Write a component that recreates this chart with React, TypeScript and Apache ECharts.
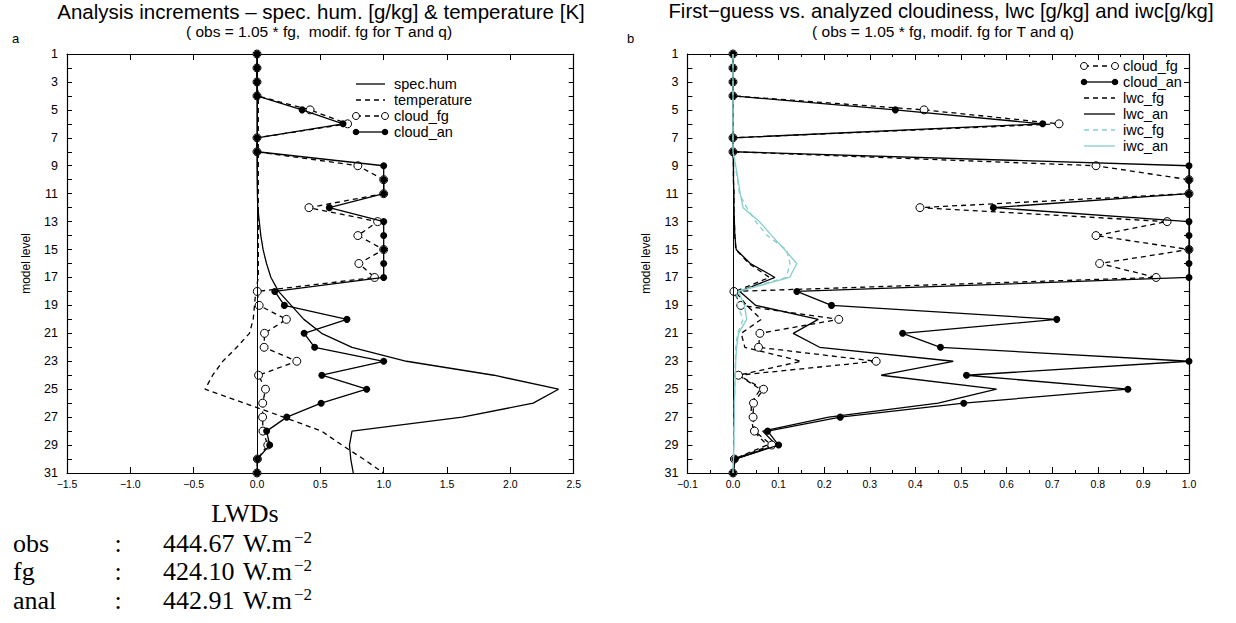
import React, { useEffect, useRef } from "react";
import * as echarts from "echarts";

// ---------------- data ----------------
const levels = [1, 2, 3, 4, 5, 6, 7, 8, 9, 10, 11, 12, 13, 14, 15, 16, 17, 18, 19, 20, 21, 22, 23, 24, 25, 26, 27, 28, 29, 30, 31];

// panel a
const specHum = [0, 0, 0, 0, 0, 0, 0, 0, 0, 0.001, 0.003, 0.006, 0.018, 0.03, 0.048, 0.075, 0.11, 0.17, 0.27, 0.37, 0.51, 0.75, 1.18, 1.87, 2.38, 2.18, 1.62, 0.75, 0.73, 0.74, 0.76];
const temperature = [0, 0, 0, 0.01, 0.01, 0.01, 0.01, 0.01, 0.01, 0.01, 0.01, 0.01, 0.01, 0.01, 0.01, 0.01, 0.01, -0.01, -0.02, -0.03, -0.06, -0.16, -0.27, -0.35, -0.41, -0.1, 0.21, 0.51, 0.67, 0.84, 1.0];

// both panels
const cloudFg = [0, 0, 0, 0, 0.419, 0.715, 0, 0, 0.796, 1, 1, 0.41, 0.952, 0.796, 1, 0.804, 0.928, 0.002, 0.017, 0.232, 0.059, 0.056, 0.314, 0.012, 0.067, 0.045, 0.044, 0.047, 0.085, 0.003, 0];
const cloudAn = [0, 0, 0, 0, 0.356, 0.679, 0, 0, 1, 1, 1, 0.571, 1, 1, 1, 1, 1, 0.14, 0.216, 0.71, 0.372, 0.455, 1, 0.512, 0.866, 0.506, 0.235, 0.076, 0.1, 0.004, 0];

// panel b
const lwcFg = [0, 0, 0, 0, 0, 0, 0, 0, 0.001, 0.001, 0.002, 0.002, 0.003, 0.004, 0.006, 0.035, 0.08, 0.005, 0.03, 0.062, 0.018, 0.026, 0.15, 0.012, 0.06, 0.04, 0.04, 0.045, 0.075, 0.002, 0];
const lwcAn = [0, 0, 0, 0, 0, 0, 0, 0, 0.001, 0.001, 0.002, 0.002, 0.003, 0.004, 0.007, 0.038, 0.092, 0.015, 0.05, 0.187, 0.132, 0.19, 0.483, 0.325, 0.578, 0.45, 0.21, 0.065, 0.095, 0.005, 0];
const iwcFg = [0, 0, 0, 0, 0, 0, 0, 0, 0.005, 0.01, 0.014, 0.03, 0.05, 0.075, 0.117, 0.125, 0.117, 0.008, 0.01, 0.022, 0.01, 0.006, 0.005, 0.004, 0.004, 0.003, 0.003, 0.002, 0.002, 0.001, 0];
const iwcAn = [0, 0, 0, 0, 0, 0, 0, 0, 0.006, 0.011, 0.016, 0.022, 0.058, 0.085, 0.113, 0.14, 0.124, 0.012, 0.025, 0.03, 0.012, 0.008, 0.006, 0.005, 0.004, 0.003, 0.003, 0.002, 0.002, 0.001, 0];

const leftLegend = ["spec.hum", "temperature", "cloud_fg", "cloud_an"];
const rightLegend = ["cloud_fg", "cloud_an", "lwc_fg", "lwc_an", "iwc_fg", "iwc_an"];

const tableHeader = "LWDs";
const tableRows = [
  { name: "obs", value: "444.67" },
  { name: "fg", value: "424.10" },
  { name: "anal", value: "442.91" },
];

const titleA = "Analysis increments \u2013 spec. hum. [g/kg] & temperature [K]";
const subA = "( obs = 1.05 * fg,  modif. fg for T and q)";
const titleB = "First\u2212guess vs. analyzed cloudiness, lwc [g/kg] and iwc[g/kg]";
const subB = "( obs = 1.05 * fg, modif. fg for T and q)";

// ---------------- styles ----------------
const SANS = "Liberation Sans, Arial, sans-serif";
const SERIF = "Liberation Serif, Times New Roman, serif";
const CYAN = "#84cfcb";
const DASH = [5, 4];
const LW = 1.3;

const pairs = (xs: number[]) => xs.map((x, i) => [x, levels[i]]);

const fmt = (v: number) => (v < 0 ? "\u2212" : "") + Math.abs(v).toFixed(1);

function lineSeries(name: string, xs: number[], opts: any) {
  const color = opts.color || "#000";
  let itemStyle: any = { color };
  if (opts.marker === "open") itemStyle = { color: "#fff", borderColor: "#000", borderWidth: 1 };
  if (opts.marker === "filled") itemStyle = { color: "#000", borderWidth: 0 };
  return {
    name,
    type: "line",
    data: pairs(xs),
    xAxisIndex: opts.grid === 0 ? 0 : 2,
    yAxisIndex: opts.grid === 0 ? 0 : 2,
    symbol: opts.marker ? "circle" : "none",
    symbolSize: opts.marker === "open" ? 8 : opts.marker === "filled" ? 7 : 0,
    showSymbol: !!opts.marker,
    showAllSymbol: true,
    silent: true,
    z: opts.z || 2,
    lineStyle: { color, width: LW, type: opts.dashed ? DASH : "solid" },
    itemStyle,
    emphasis: { disabled: true },
    markLine: opts.zero
      ? {
          silent: true,
          symbol: ["none", "none"],
          label: { show: false },
          lineStyle: { color: "#000", type: "solid", width: 1 },
          data: [{ xAxis: 0 }],
        }
      : undefined,
  };
}

function xAxisDef(grid: number, pos: string, min: number, max: number, interval: number, labels: boolean, minor: boolean) {
  return {
    type: "value",
    gridIndex: grid,
    position: pos,
    min,
    max,
    interval,
    axisLine: { show: true, onZero: false, lineStyle: { color: "#000", width: 1.2 } },
    axisTick: { show: true, inside: true, length: 6, lineStyle: { color: "#000" } },
    minorTick: { show: minor, splitNumber: 2, length: 3, lineStyle: { color: "#000" } },
    splitLine: { show: false },
    minorSplitLine: { show: false },
    axisLabel: {
      show: labels,
      formatter: fmt,
      color: "#000",
      fontSize: 10.5,
      fontFamily: SANS,
      margin: 5,
    },
  };
}

function yAxisDef(grid: number, pos: string, labels: boolean) {
  return {
    type: "value",
    gridIndex: grid,
    position: pos,
    inverse: true,
    min: 1,
    max: 31,
    interval: 1,
    name: labels ? "model level" : "",
    nameLocation: "middle",
    nameGap: 35,
    nameRotate: 90,
    nameTextStyle: { color: "#000", fontSize: 12, fontFamily: SANS },
    axisLine: { show: true, onZero: false, lineStyle: { color: "#000", width: 1.2 } },
    axisTick: { show: true, inside: true, length: 5, lineStyle: { color: "#000" } },
    splitLine: { show: false },
    axisLabel: {
      show: labels,
      formatter: (v: number) => (Math.round(v) % 2 === 1 ? String(Math.round(v)) : ""),
      color: "#000",
      fontSize: 12.5,
      fontFamily: SANS,
      margin: 9,
    },
  };
}

function text(x: number, y: number, t: string, size: number, family: string, align = "left", extra: any = {}) {
  return {
    type: "text",
    x,
    y,
    silent: true,
    style: {
      text: t,
      fill: "#000",
      fontSize: size,
      fontFamily: family,
      textAlign: align,
      textVerticalAlign: "middle",
      ...extra,
    },
  };
}

function legendSample(x1: number, x2: number, y: number, kind: string, color = "#000") {
  const els: any[] = [];
  const dashed = kind === "dashed" || kind === "fg";
  els.push({
    type: "line",
    silent: true,
    shape: { x1, y1: y, x2, y2: y },
    style: { stroke: color, lineWidth: LW, lineDash: dashed ? DASH : null },
  });
  if (kind === "fg") {
    els.push({ type: "circle", silent: true, shape: { cx: x1, cy: y, r: 3.5 }, style: { fill: "#fff", stroke: "#000", lineWidth: 1 } });
    els.push({ type: "circle", silent: true, shape: { cx: x2, cy: y, r: 3.5 }, style: { fill: "#fff", stroke: "#000", lineWidth: 1 } });
  }
  if (kind === "an") {
    els.push({ type: "circle", silent: true, shape: { cx: x1, cy: y, r: 3.3 }, style: { fill: "#000" } });
    els.push({ type: "circle", silent: true, shape: { cx: x2, cy: y, r: 3.3 }, style: { fill: "#000" } });
  }
  return els;
}

export default function App() {
  const ref = useRef<HTMLDivElement>(null);

  useEffect(() => {
    document.body.style.margin = "0";
    if (!ref.current) return;
    const chart = echarts.init(ref.current, undefined, { renderer: "svg" });

    const leftKinds = ["solid", "dashed", "fg", "an"];
    const rightKinds = ["fg", "an", "dashed", "solid", "dashed", "solid"];
    const rightColors = ["#000", "#000", "#000", "#000", CYAN, CYAN];

    const graphics: any[] = [
      text(321, 11, titleA, 20.5, SANS, "center"),
      text(319, 31, subA, 15.5, SANS, "center"),
      text(941, 11, titleB, 20.3, SANS, "center"),
      text(943, 31, subB, 15.5, SANS, "center"),
      text(12, 38, "a", 13, SANS, "left"),
      text(627, 38, "b", 13, SANS, "left"),
    ];
    leftLegend.forEach((lab, i) => {
      const y = 84 + i * 16;
      graphics.push(...legendSample(356, 385, y, leftKinds[i]));
      graphics.push(text(394, y, lab, 14.5, SANS, "left"));
    });
    rightLegend.forEach((lab, i) => {
      const y = 66 + i * 16;
      graphics.push(...legendSample(1084, 1115, y, rightKinds[i], rightColors[i]));
      graphics.push(text(1123, y, lab, 14.5, SANS, "left"));
    });
    graphics.push(text(245, 513, tableHeader, 26, SERIF, "center"));
    tableRows.forEach((r, i) => {
      const y = 543 + i * 28.5;
      graphics.push(text(13, y, r.name, 26, SERIF, "left"));
      graphics.push(text(118, y, ":", 26, SERIF, "center"));
      graphics.push(text(163, y, r.value, 26, SERIF, "left"));
      graphics.push(text(243, y, "W.m", 26, SERIF, "left"));
      graphics.push(text(294, y - 6, "\u22122", 17, SERIF, "left"));
    });

    const option: any = {
      animation: false,
      backgroundColor: "#fff",
      grid: [
        { left: 67, top: 54, width: 506.7, height: 419, containLabel: false },
        { left: 687.4, top: 54, width: 501.6, height: 419, containLabel: false },
      ],
      xAxis: [
        xAxisDef(0, "bottom", -1.5, 2.5, 0.5, true, false),
        xAxisDef(0, "top", -1.5, 2.5, 0.5, false, false),
        xAxisDef(1, "bottom", -0.1, 1.0, 0.1, true, true),
        xAxisDef(1, "top", -0.1, 1.0, 0.1, false, true),
      ],
      yAxis: [yAxisDef(0, "left", true), yAxisDef(0, "right", false), yAxisDef(1, "left", true), yAxisDef(1, "right", false)],
      series: [
        lineSeries("spec.hum", specHum, { grid: 0, zero: true }),
        lineSeries("temperature", temperature, { grid: 0, dashed: true }),
        lineSeries("cloud_fg", cloudFg, { grid: 0, dashed: true, marker: "open", z: 3 }),
        lineSeries("cloud_an", cloudAn, { grid: 0, marker: "filled", z: 4 }),
        lineSeries("cloud_fg", cloudFg, { grid: 1, dashed: true, marker: "open", z: 3, zero: true }),
        lineSeries("cloud_an", cloudAn, { grid: 1, marker: "filled", z: 4 }),
        lineSeries("lwc_fg", lwcFg, { grid: 1, dashed: true }),
        lineSeries("lwc_an", lwcAn, { grid: 1 }),
        lineSeries("iwc_fg", iwcFg, { grid: 1, dashed: true, color: CYAN, z: 5 }),
        lineSeries("iwc_an", iwcAn, { grid: 1, color: CYAN, z: 5 }),
      ],
      graphic: { elements: graphics },
    };
    chart.setOption(option);
    return () => chart.dispose();
  }, []);

  return <div ref={ref} style={{ width: 1236, height: 623 }} />;
}
